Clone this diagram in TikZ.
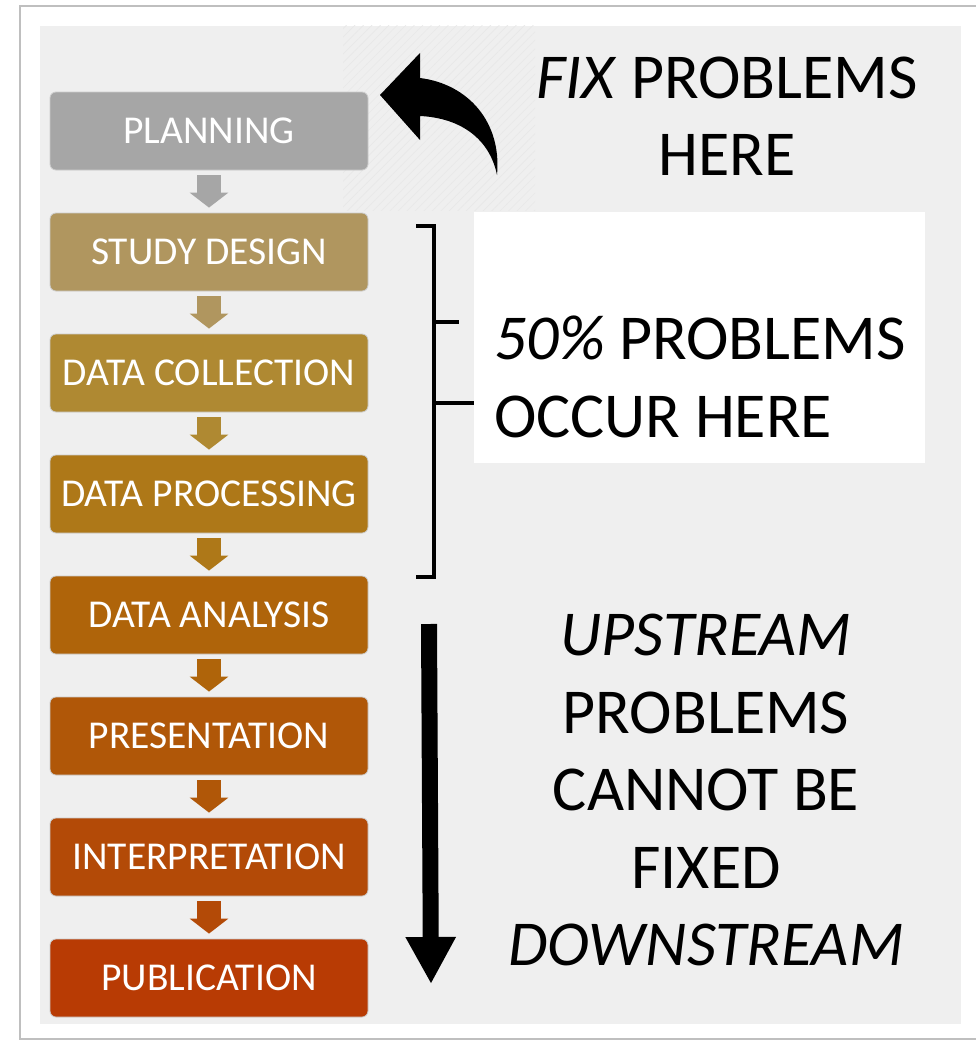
\documentclass[tikz,border=0pt]{standalone}
\usepackage{fontspec}
\setmainfont{Carlito}
\usetikzlibrary{arrows.meta,positioning,calc,patterns.meta}
\definecolor{planC}{HTML}{A6A6A6}
\definecolor{studyC}{HTML}{B0965F}
\definecolor{collectC}{HTML}{AF8932}
\definecolor{processC}{HTML}{AE7818}
\definecolor{analysisC}{HTML}{AF640A}
\definecolor{presentC}{HTML}{B05708}
\definecolor{interpC}{HTML}{B34A07}
\definecolor{publC}{HTML}{B83B04}
\definecolor{panelC}{HTML}{EFEFEF}
\begin{document}
\begin{tikzpicture}[x=1pt,y=-1pt,
    stage/.style={rounded corners=6pt, minimum width=318pt, minimum height=78pt,
      inner sep=0pt, text=white, font=\fontsize{39.5}{46}\selectfont,
      draw=white!80!black, line width=0.8pt},
    flow/.style={line width=24pt, -{Triangle[width=38pt,length=15pt]}},
    bigtext/.style={font=\fontsize{64}{77.5}\selectfont, align=center, inner sep=0pt}]
  \useasboundingbox (0,0) rectangle (976,1042);
  % page frame and panel
  \draw[black!25, line width=1.5pt] (20,6) rectangle (990,1039);
  \fill[panelC] (40,26) rectangle (961,1024);
  % hatched corner behind the first stage
  \fill[pattern={Lines[angle=45,distance=6pt,line width=0.6pt]}, pattern color=black!9]
    (343,25) rectangle (535,210);
  % stages
  \node[stage, fill=planC] (plan) at (209,131) {PLANNING};
  \node[stage, fill=studyC, below=42.2pt of plan] (study) {STUDY DESIGN};
  \node[stage, fill=collectC, below=42.2pt of study] (collect) {DATA COLLECTION};
  \node[stage, fill=processC, below=42.2pt of collect] (process) {DATA PROCESSING};
  \node[stage, fill=analysisC, below=42.2pt of process] (analysis) {DATA ANALYSIS};
  \node[stage, fill=presentC, below=42.2pt of analysis] (present) {PRESENTATION};
  \node[stage, fill=interpC, below=42.2pt of present] (interp) {INTERPRETATION};
  \node[stage, fill=publC, below=42.2pt of interp] (publ) {PUBLICATION};
  \draw[flow, planC] ([yshift=-5pt]plan.south) -- ([yshift=5pt]study.north);
  \draw[flow, studyC] ([yshift=-5pt]study.south) -- ([yshift=5pt]collect.north);
  \draw[flow, collectC] ([yshift=-5pt]collect.south) -- ([yshift=5pt]process.north);
  \draw[flow, processC] ([yshift=-5pt]process.south) -- ([yshift=5pt]analysis.north);
  \draw[flow, analysisC] ([yshift=-5pt]analysis.south) -- ([yshift=5pt]present.north);
  \draw[flow, presentC] ([yshift=-5pt]present.south) -- ([yshift=5pt]interp.north);
  \draw[flow, interpC] ([yshift=-5pt]interp.south) -- ([yshift=5pt]publ.north);
  % curved arrow
  \fill[black] (380,95) -- (420,53) -- (420,78)
    .. controls (468,84) and (502,122) .. (497,175)
    .. controls (490,140) and (462,118) .. (420,116)
    -- (420,140) -- cycle;
  \node[bigtext] (fix) at (727,116) {\textit{FIX} PROBLEMS\\HERE};
  % bracket and white box
  \fill[white] (474,212) rectangle (925,463);
  \draw[line width=4.5pt] (416,226) -- (434,226) -- (434,577) -- (416,577);
  \draw[line width=4.5pt] (434,322) -- (459,322);
  \draw[line width=4.5pt] (434,403) -- (474,403);
  \node[bigtext, align=left, anchor=west] (fifty) at (494,377) {\textit{50\%} PROBLEMS\\OCCUR HERE};
  % downstream arrow
  \coordinate (dtop) at (429,624);
  \coordinate (dbot) at (431,984);
  \draw[line width=16pt, -{Triangle[width=47pt,length=47pt]}] (dtop) -- (dbot);
  \node[bigtext] (up) at (706,790) {\textit{UPSTREAM}\\PROBLEMS\\CANNOT BE\\FIXED\\\textit{DOWNSTREAM}};
\end{tikzpicture}
\end{document}
